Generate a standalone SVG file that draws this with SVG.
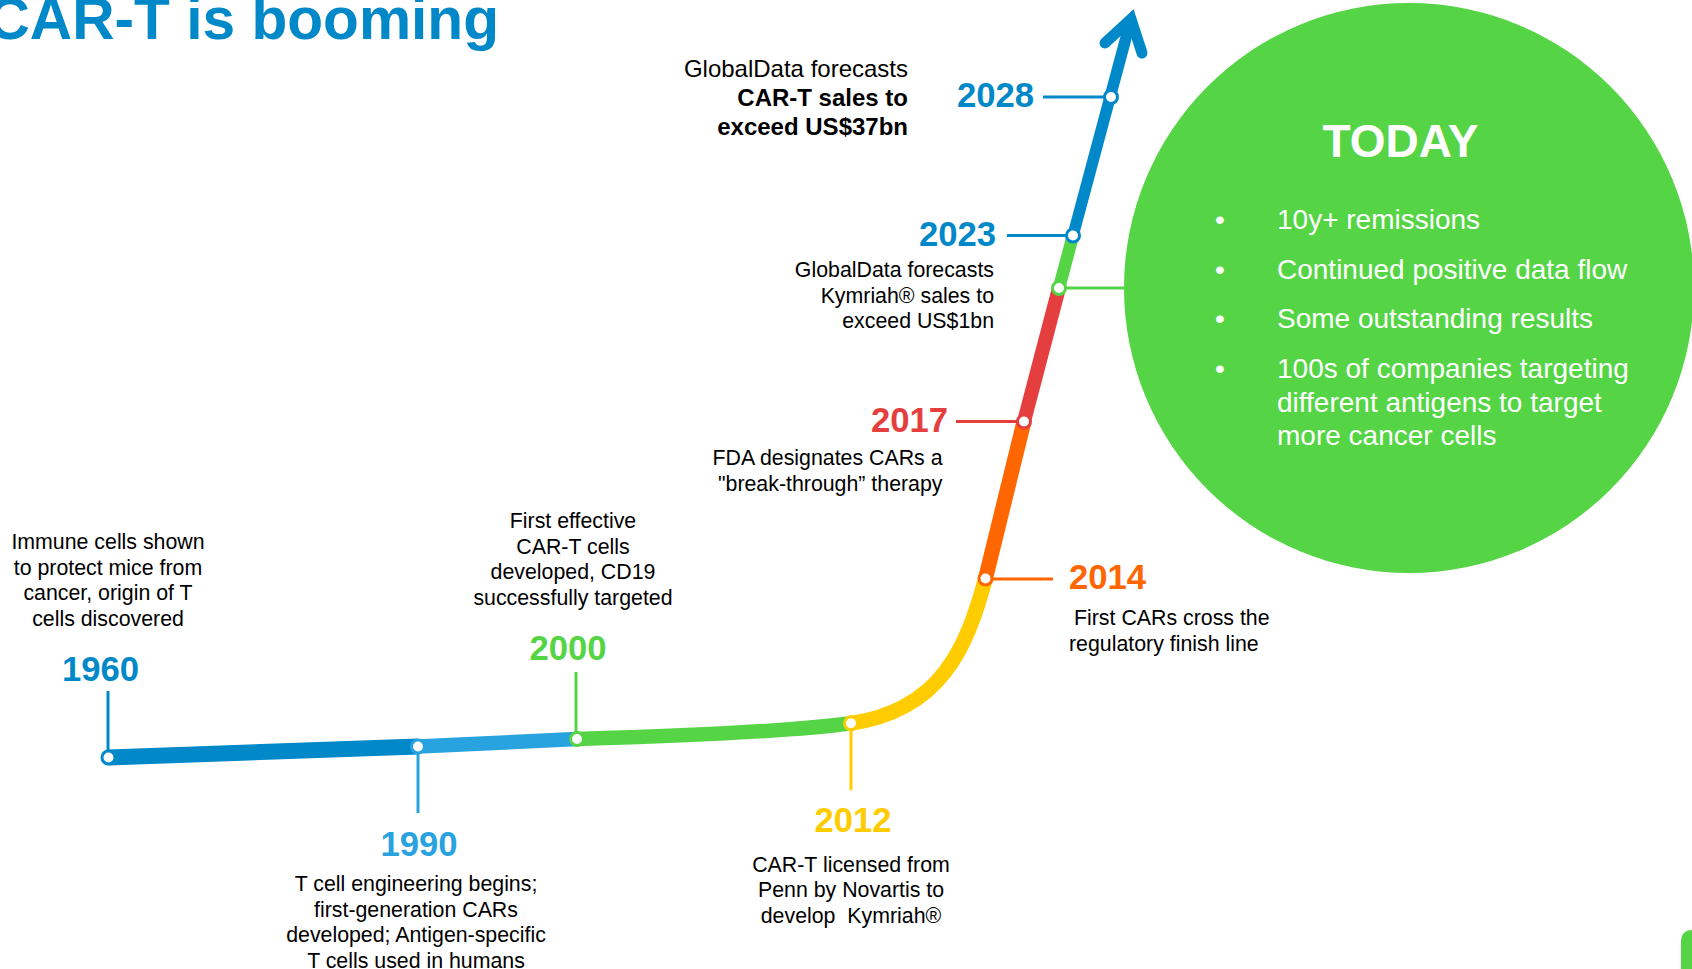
<svg xmlns="http://www.w3.org/2000/svg" width="1692" height="969" viewBox="0 0 1692 969">
  <style>
    text { font-family: "Liberation Sans", Arial, sans-serif; }
    .title { font-size: 58.67px; font-weight: bold; }
    .year { font-size: 34.67px; font-weight: bold; }
    .desc { font-size: 21.33px; fill: #000000; }
    .desc-lg { font-size: 24px; fill: #000000; }
    .b { font-weight: bold; }
    .lead { stroke-width: 3; fill: none; }
    .dot { fill: #ffffff; stroke-width: 3; }
    .seg { fill: none; }
    .today-h { font-size: 46px; font-weight: bold; fill: #ffffff; }
    .today-t { font-size: 28px; fill: #ffffff; }
    .f-db { fill: #0088C8; } .s-db { stroke: #0088C8; }
    .f-lb { fill: #29A3DF; } .s-lb { stroke: #29A3DF; }
    .f-gn { fill: #55D545; } .s-gn { stroke: #55D545; }
    .f-yl { fill: #FFCC00; } .s-yl { stroke: #FFCC00; }
    .f-or { fill: #FF6600; } .s-or { stroke: #FF6600; }
    .f-rd { fill: #E53E3E; } .s-rd { stroke: #E53E3E; }
  </style>

  <!-- heading -->
  <text class="title f-db" x="499" y="38.5" text-anchor="end">CAR-T is booming</text>

  <!-- corner tab -->
  <rect class="f-gn" x="1681" y="930" width="40" height="60" rx="10"/>

  <!-- timeline track -->
  <g id="connectors">
    <path class="seg s-db" d="M108.5,757.5 L418,746.5" stroke-width="16"/>
    <path class="seg s-lb" d="M418,746.5 L577,739" stroke-width="14.5"/>
    <path class="seg s-gn" d="M577,739 Q780,733 851,723.3" stroke-width="14.5"/>
    <path class="seg s-yl" d="M851,723.3 C941,710 966.7,648 985.5,578.5" stroke-width="15"/>
    <path class="seg s-or" d="M985.5,578.5 L1024,421.5" stroke-width="15"/>
    <path class="seg s-rd" d="M1024,421.5 L1059,288" stroke-width="14"/>
    <path class="seg s-gn" d="M1059,288 L1073,235.5" stroke-width="12.5"/>
    <path class="seg s-db" d="M1073,235.5 L1131,19" stroke-width="11.5"/>
    <polyline class="seg s-db" points="1105,43 1131,19 1142,53" stroke-width="11" stroke-linecap="round" stroke-linejoin="miter"/>
  </g>

  <g id="node-1960">
    <line class="lead s-db" x1="108" y1="691" x2="108" y2="757"/>
    <circle class="dot s-db" cx="108.5" cy="757.5" r="6.5"/>
    <text class="year f-db" x="100.5" y="681" text-anchor="middle">1960</text>
    <text class="desc" text-anchor="middle"><tspan x="108" y="549">Immune cells shown</tspan><tspan x="108" y="574.6">to protect mice from</tspan><tspan x="108" y="600.2">cancer, origin of T</tspan><tspan x="108" y="625.8">cells discovered</tspan></text>
  </g>

  <g id="node-1990">
    <line class="lead s-lb" x1="418" y1="746" x2="418" y2="813"/>
    <circle class="dot s-lb" cx="418" cy="746.5" r="6.5"/>
    <text class="year f-lb" x="419" y="856" text-anchor="middle">1990</text>
    <text class="desc" text-anchor="middle"><tspan x="416" y="891">T cell engineering begins;</tspan><tspan x="416" y="916.6">first-generation CARs</tspan><tspan x="416" y="942.2">developed; Antigen-specific</tspan><tspan x="416" y="967.8">T cells used in humans</tspan></text>
  </g>

  <g id="node-2000">
    <line class="lead s-gn" x1="576" y1="672" x2="576" y2="739"/>
    <circle class="dot s-gn" cx="577" cy="739" r="6.5"/>
    <text class="year f-gn" x="568" y="660" text-anchor="middle">2000</text>
    <text class="desc" text-anchor="middle"><tspan x="573" y="528">First effective</tspan><tspan x="573" y="553.6">CAR-T cells</tspan><tspan x="573" y="579.2">developed, CD19</tspan><tspan x="573" y="604.8">successfully targeted</tspan></text>
  </g>

  <g id="node-2012">
    <line class="lead s-yl" x1="851" y1="723" x2="851" y2="790"/>
    <circle class="dot s-yl" cx="851" cy="723.3" r="6.5"/>
    <text class="year f-yl" x="853" y="832" text-anchor="middle">2012</text>
    <text class="desc" text-anchor="middle" xml:space="preserve"><tspan x="851" y="871.5">CAR-T licensed from</tspan><tspan x="851" y="897.1">Penn by Novartis to</tspan><tspan x="851" y="922.7">develop  Kymriah®</tspan></text>
  </g>

  <g id="node-2014">
    <line class="lead s-or" x1="985.5" y1="579" x2="1053" y2="579"/>
    <circle class="dot s-or" cx="985.5" cy="578.5" r="6.5"/>
    <text class="year f-or" x="1069" y="589">2014</text>
    <text class="desc"><tspan x="1074" y="625">First CARs cross the</tspan><tspan x="1069" y="650.6">regulatory finish line</tspan></text>
  </g>

  <g id="node-2017">
    <line class="lead s-rd" x1="956" y1="421.5" x2="1024" y2="421.5"/>
    <circle class="dot s-rd" cx="1024" cy="421.5" r="6.5"/>
    <text class="year f-rd" x="948" y="431.5" text-anchor="end">2017</text>
    <text class="desc" text-anchor="end"><tspan x="942.5" y="465">FDA designates CARs a</tspan><tspan x="942.5" y="490.6">"break-through” therapy</tspan></text>
  </g>

  <g id="node-today">
    <circle class="f-gn" cx="1409" cy="288" r="285"/>
    <line class="lead s-gn" x1="1059" y1="288" x2="1130" y2="288"/>
    <circle class="dot s-gn" cx="1059" cy="288" r="6.5"/>
    <text class="today-h" x="1400.5" y="157" text-anchor="middle">TODAY</text>
    <g class="today-t">
      <text x="1220" y="229" text-anchor="middle">•</text>
      <text x="1277" y="229">10y+ remissions</text>
      <text x="1220" y="279" text-anchor="middle">•</text>
      <text x="1277" y="279">Continued positive data flow</text>
      <text x="1220" y="328" text-anchor="middle">•</text>
      <text x="1277" y="328">Some outstanding results</text>
      <text x="1220" y="378" text-anchor="middle">•</text>
      <text><tspan x="1277" y="378">100s of companies targeting</tspan><tspan x="1277" y="411.5">different antigens to target</tspan><tspan x="1277" y="445">more cancer cells</tspan></text>
    </g>
  </g>

  <g id="node-2023">
    <line class="lead s-db" x1="1007" y1="235.5" x2="1073" y2="235.5"/>
    <circle class="dot s-db" cx="1073" cy="235.5" r="6.5"/>
    <text class="year f-db" x="996" y="245.5" text-anchor="end">2023</text>
    <text class="desc" text-anchor="end"><tspan x="994" y="277">GlobalData forecasts</tspan><tspan x="994" y="302.6">Kymriah® sales to</tspan><tspan x="994" y="328.2">exceed US$1bn</tspan></text>
  </g>

  <g id="node-2028">
    <line class="lead s-db" x1="1043" y1="97" x2="1111" y2="97"/>
    <circle class="dot s-db" cx="1111" cy="97" r="6.5"/>
    <text class="year f-db" x="1034" y="107" text-anchor="end">2028</text>
    <text class="desc-lg" text-anchor="end"><tspan x="908" y="77">GlobalData forecasts</tspan><tspan class="b" x="908" y="106">CAR-T sales to</tspan><tspan class="b" x="908" y="135">exceed US$37bn</tspan></text>
  </g>
</svg>
